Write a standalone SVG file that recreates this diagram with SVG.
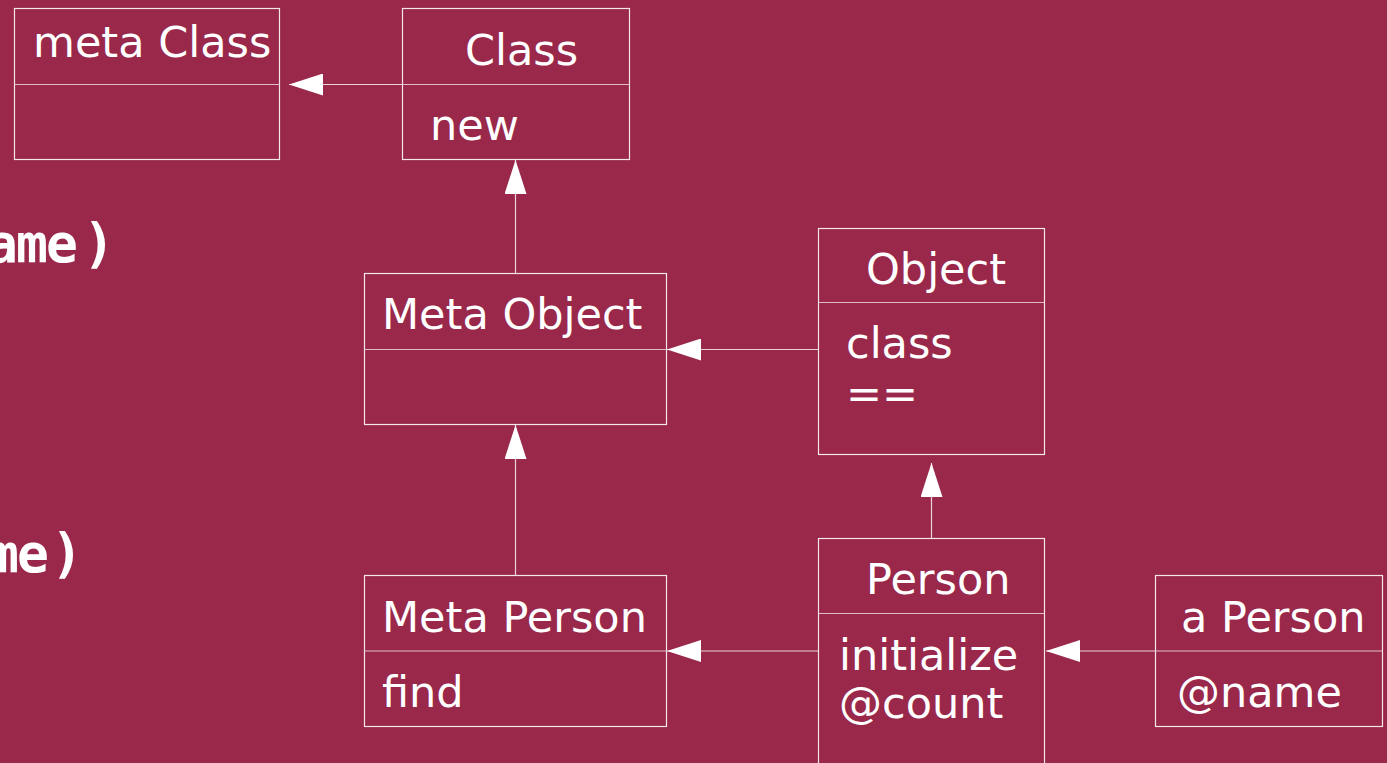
<svg xmlns="http://www.w3.org/2000/svg" width="1387" height="763" viewBox="0 0 1387 763">
<defs>
<style>
.box{fill:none;stroke:#f6e6ea;stroke-width:1.2}
.div{stroke:#e2bcc8;stroke-width:1.2}
.t{font-family:"DejaVu Sans",sans-serif;font-size:43px;fill:#ffffff}
.code{font-family:"DejaVu Sans Mono",monospace;font-weight:bold;font-size:53px;fill:#ffffff}
.conn{stroke:#ecd2da;stroke-width:1.2;fill:none;marker-end:url(#tri)}
</style>
<marker id="tri" markerUnits="userSpaceOnUse" markerWidth="34" markerHeight="22" refX="34" refY="11" orient="auto">
<path d="M0,0 L34,11 L0,22 z" fill="#ffffff"/>
</marker>
</defs>
<rect width="1387" height="763" fill="#99284b"/>
<text class="code" x="-14 16 46 83" y="262">ame)</text>
<text class="code" x="-13 17 51" y="572">me)</text>
<g id="connectors">
<line class="conn" x1="402" y1="84.5" x2="289" y2="84.5"/>
<line class="conn" x1="515.5" y1="273" x2="515.5" y2="160"/>
<line class="conn" x1="818" y1="349.5" x2="667" y2="349.5"/>
<line class="conn" x1="515.5" y1="575" x2="515.5" y2="425"/>
<line class="conn" x1="931.5" y1="538" x2="931.5" y2="463"/>
<line class="conn" x1="818" y1="651" x2="667" y2="651"/>
<line class="conn" x1="1155" y1="651" x2="1046" y2="651"/>
</g>
<g id="metaClass">
<rect class="box" x="14.5" y="8.5" width="265" height="151"/>
<line class="div" x1="14.5" y1="84.5" x2="279.5" y2="84.5"/>
<text class="t" x="33" y="57">meta Class</text>
</g>
<g id="class">
<rect class="box" x="402.5" y="8.5" width="227" height="151"/>
<line class="div" x1="402.5" y1="84.5" x2="629.5" y2="84.5"/>
<text class="t" x="465" y="65">Class</text>
<text class="t" x="430" y="140">new</text>
</g>
<g id="metaObject">
<rect class="box" x="364.5" y="273.5" width="302" height="151"/>
<line class="div" x1="364.5" y1="349.5" x2="666.5" y2="349.5"/>
<text class="t" x="382" y="329">Meta Object</text>
</g>
<g id="object">
<rect class="box" x="818.5" y="228.5" width="226" height="226"/>
<line class="div" x1="818.5" y1="302.5" x2="1044.5" y2="302.5"/>
<text class="t" x="866" y="284">Object</text>
<text class="t" x="846" y="358">class</text>
<text class="t" x="846" y="408">==</text>
</g>
<g id="metaPerson">
<rect class="box" x="364.5" y="575.5" width="302" height="151"/>
<line class="div" x1="364.5" y1="651" x2="666.5" y2="651"/>
<text class="t" x="382" y="632">Meta Person</text>
<text class="t" x="382" y="707">find</text>
</g>
<g id="person">
<rect class="box" x="818.5" y="538.5" width="226" height="240"/>
<line class="div" x1="818.5" y1="613.5" x2="1044.5" y2="613.5"/>
<text class="t" x="866" y="594">Person</text>
<text class="t" x="839" y="670">initialize</text>
<text class="t" x="839" y="718">@count</text>
</g>
<g id="aPerson">
<rect class="box" x="1155.5" y="575.5" width="227" height="151"/>
<line class="div" x1="1155.5" y1="651" x2="1382.5" y2="651"/>
<text class="t" x="1181" y="632">a Person</text>
<text class="t" x="1177" y="707">@name</text>
</g>
</svg>
